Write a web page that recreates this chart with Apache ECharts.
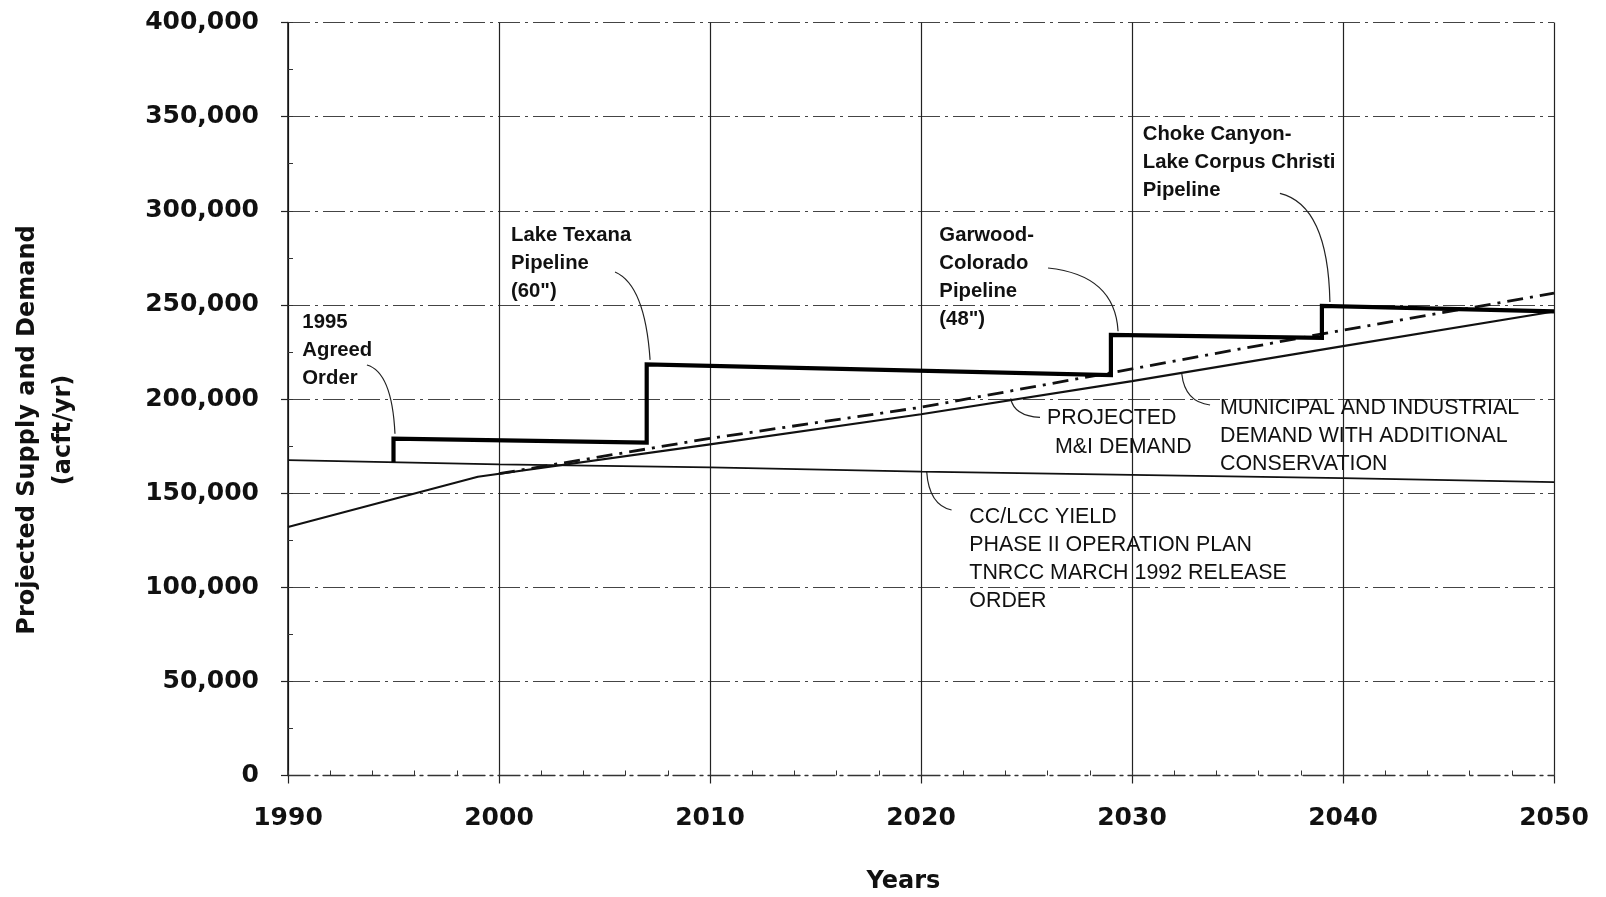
<!DOCTYPE html>
<html><head><meta charset="utf-8">
<script src="https://cdn.jsdelivr.net/npm/echarts@6/dist/echarts.min.js"></script>
<style>html,body{margin:0;padding:0;background:#fff}#c{width:1606px;height:897px}</style>
</head><body><div id="c"></div>
<script>
// ---- data ----
const yieldYears = [1990, 2000, 2010, 2020, 2030, 2040, 2050];
const yieldValues = [167500, 165300, 163700, 161400, 159700, 158000, 155800];

const demandYears = [1990, 1999, 2010, 2020, 2030, 2040, 2050];
const demandValues = [132000, 158700, 175900, 191900, 209500, 228100, 246500];

const conservationYears = [2000, 2010, 2020, 2030, 2040, 2050];
const conservationValues = [160300, 179100, 195600, 216000, 236600, 256200];

const supplyYears = [1995, 1995, 2007, 2007, 2029, 2029, 2039, 2039, 2050];
const supplyValues = [166500, 179000, 176800, 218400, 212700, 234000, 232500, 249500, 246500];

const xTickValues = [1990, 2000, 2010, 2020, 2030, 2040, 2050];
const yTickValues = [0, 50000, 100000, 150000, 200000, 250000, 300000, 350000, 400000];

// annotation texts (anchor = [year, value] of first line, left edge)
const annotations = [
  {at: [1990.68, 240740], lines: ['1995', 'Agreed', 'Order'], bold: true},
  {at: [2000.57, 287110], lines: ['Lake Texana', 'Pipeline', '(60")'], bold: true},
  {at: [2020.87, 287110], lines: ['Garwood-', 'Colorado', 'Pipeline', '(48")'], bold: true},
  {at: [2030.51, 340500], lines: ['Choke Canyon-', 'Lake Corpus Christi', 'Pipeline'], bold: true},
  {at: [2025.97, 189740], lines: ['PROJECTED'], bold: false},
  {at: [2026.35, 174660], lines: ['M&I DEMAND'], bold: false},
  {at: [2034.17, 195060], lines: ['MUNICIPAL AND INDUSTRIAL', 'DEMAND WITH ADDITIONAL', 'CONSERVATION'], bold: false},
  {at: [2022.29, 137160], lines: ['CC/LCC YIELD', 'PHASE II OPERATION PLAN', 'TNRCC MARCH 1992 RELEASE', 'ORDER'], bold: false}
];
// leader curves: start, control, end in [year, value]
const leaders = [
  [[1993.74, 218060], [1994.93, 214340], [1995.07, 181500]],
  [[2005.50, 267460], [2006.92, 260550], [2007.16, 220800]],
  [[2026.02, 269580], [2029.19, 265870], [2029.34, 236000]],
  [[2037.01, 309260], [2039.29, 303050], [2039.38, 251500]],
  [[2024.25, 200370], [2024.41, 190970], [2025.64, 190280]],
  [[2032.36, 213280], [2032.51, 198400], [2033.70, 196810]],
  [[2020.27, 161380], [2020.38, 143690], [2021.45, 141030]]
];

const zip = (xs, ys) => xs.map((x, i) => [x, ys[i]]);
const fmt = v => Math.round(v).toString().replace(/\B(?=(\d{3})+(?!\d))/g, ',');

const chart = echarts.init(document.getElementById('c'), null, {renderer: 'canvas'});
const gridDash = [22, 5, 3, 5];
const tickFont = {fontFamily: 'DejaVu Sans', fontWeight: 'bold', fontSize: 25, color: '#111'};

chart.setOption({
  animation: false,
  backgroundColor: '#fff',
  grid: {left: 288, right: 52, top: 22.5, bottom: 121.5, containLabel: false},
  xAxis: [
    {
      type: 'value', min: xTickValues[0], max: xTickValues[xTickValues.length - 1], interval: 10,
      axisLine: {show: true, onZero: false, lineStyle: {color: '#333', width: 1.3, type: gridDash}},
      axisTick: {show: true, length: 8, lineStyle: {color: '#222', width: 1.2}},
      axisLabel: Object.assign({margin: 30, formatter: v => String(v)}, tickFont),
      splitLine: {show: true, lineStyle: {color: '#222', width: 1.2}}
    },
    {
      type: 'value', min: xTickValues[0], max: xTickValues[xTickValues.length - 1], interval: 2, position: 'bottom',
      axisLine: {show: false},
      axisTick: {show: true, inside: true, length: 5, lineStyle: {color: '#333', width: 1}},
      axisLabel: {show: false}, splitLine: {show: false}
    }
  ],
  yAxis: [
    {
      type: 'value', min: yTickValues[0], max: yTickValues[yTickValues.length - 1], interval: 50000,
      axisLine: {show: true, onZero: false, lineStyle: {color: '#111', width: 1.5}},
      axisTick: {show: true, length: 7, lineStyle: {color: '#222', width: 1.2}},
      axisLabel: Object.assign({margin: 29, formatter: fmt}, tickFont),
      splitLine: {show: true, lineStyle: {color: '#444', width: 1.2, type: gridDash}}
    },
    {
      type: 'value', min: yTickValues[0], max: yTickValues[yTickValues.length - 1], interval: 25000, position: 'left',
      axisLine: {show: false},
      axisTick: {show: true, inside: true, length: 5, lineStyle: {color: '#333', width: 1}},
      axisLabel: {show: false}, splitLine: {show: false}
    }
  ],
  series: [
    {name: 'CC/LCC Yield', type: 'line', data: zip(yieldYears, yieldValues), symbol: 'none', silent: true,
      lineStyle: {color: '#111', width: 1.7}},
    {name: 'Projected M&I Demand', type: 'line', data: zip(demandYears, demandValues), symbol: 'none', silent: true,
      lineStyle: {color: '#111', width: 2.1}},
    {name: 'M&I Demand with Additional Conservation', type: 'line', data: zip(conservationYears, conservationValues),
      symbol: 'none', silent: true, lineStyle: {color: '#111', width: 2.8, type: [16, 7, 3, 7]}},
    {name: 'Supply', type: 'line', data: zip(supplyYears, supplyValues), symbol: 'none', silent: true,
      lineStyle: {color: '#000', width: 4.2, join: 'miter'}}
  ]
});

function drawAnnotations() {
  const P = p => chart.convertToPixel({gridIndex: 0}, p);
  const g = [];
  annotations.forEach(a => {
    const p = P(a.at);
    const lh = 28;
    g.push({
      type: 'text', x: p[0], y: p[1] - lh / 2, silent: true,
      style: {
        text: a.lines.join('\n'), fill: '#111', lineHeight: lh, align: 'left', verticalAlign: 'top',
        font: a.bold ? 'bold 20.3px "Liberation Sans", Arial, sans-serif' : '21.4px "Liberation Sans", Arial, sans-serif'
      }
    });
  });
  leaders.forEach(l => {
    const s = P(l[0]), c = P(l[1]), e = P(l[2]);
    g.push({
      type: 'bezierCurve', silent: true,
      shape: {x1: s[0], y1: s[1], cpx1: c[0], cpy1: c[1], x2: e[0], y2: e[1]},
      style: {stroke: '#222', lineWidth: 1.2, fill: null}
    });
  });
  g.push({
    type: 'text', x: 45.5, y: 430, rotation: Math.PI / 2, silent: true,
    style: {text: 'Projected Supply and Demand\n(acft/yr)', align: 'center', verticalAlign: 'middle',
      lineHeight: 36, fill: '#111', font: 'bold 24px "DejaVu Sans", sans-serif'}
  });
  g.push({
    type: 'text', x: 903.5, y: 881.7, silent: true,
    style: {text: 'Years', align: 'center', verticalAlign: 'middle', fill: '#111',
      font: 'bold 24px "DejaVu Sans", sans-serif'}
  });
  chart.setOption({graphic: g});
}
drawAnnotations();
</script>
</body></html>
